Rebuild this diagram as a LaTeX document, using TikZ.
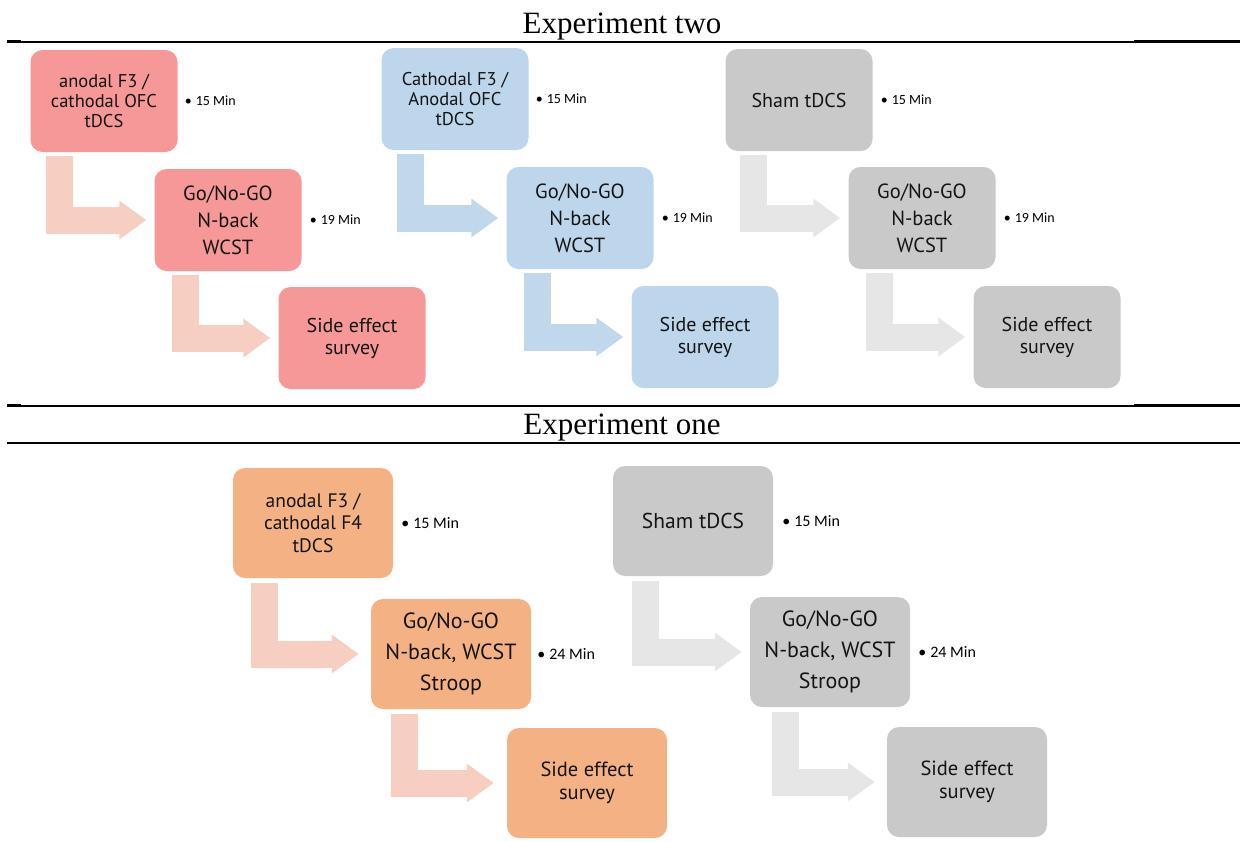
\documentclass[tikz,border=0pt]{standalone}
\usepackage{fontspec}
\setmainfont{Liberation Serif}
\newfontfamily\gillfont{PT Sans}
\newfontfamily\calfont{Carlito}
\usepackage{tikz}
\usetikzlibrary{arrows.meta,positioning}
\definecolor{redbox}{RGB}{246,152,152}
\definecolor{redflow}{RGB}{246,206,194}
\definecolor{bluebox}{RGB}{190,214,236}
\definecolor{blueflow}{RGB}{192,215,236}
\definecolor{graybox}{RGB}{201,201,201}
\definecolor{grayflow}{RGB}{230,230,230}
\definecolor{orangebox}{RGB}{244,177,132}
\definecolor{orangeflow}{RGB}{247,206,194}
\tikzset{
  stage/.style={rectangle, rounded corners=12pt, align=center, text=black!92, inner sep=2pt,
                minimum width=147pt, minimum height=102pt, font=\gillfont\fontsize{18.5}{20}\selectfont},
  bigstage/.style={stage, minimum width=160pt, minimum height=110pt, font=\gillfont\fontsize{19.5}{22.5}\selectfont},
  task/.style={font=\gillfont\fontsize{20.5}{27}\selectfont},
  bigtask/.style={font=\gillfont\fontsize{22}{31}\selectfont},
  survey/.style={font=\gillfont\fontsize{20}{22}\selectfont},
  bigsurvey/.style={font=\gillfont\fontsize{20.5}{23.5}\selectfont},
  sham/.style={font=\gillfont\fontsize{20}{22}\selectfont},
  bigsham/.style={font=\gillfont\fontsize{21.5}{24}\selectfont},
  duration/.style={font=\calfont\fontsize{14}{16}\selectfont, inner sep=0pt},
  bigduration/.style={font=\calfont\fontsize{16}{18}\selectfont, inner sep=0pt},
  flow/.style={line width=27pt, -{Triangle[length=27pt, width=37pt]}, shorten <=4pt, shorten >=8pt},
  heading/.style={font=\fontsize{31}{34}\selectfont, anchor=base, inner sep=0pt},
  rule/.style={line width=1.2pt},
  boldrule/.style={line width=2.6pt}
}

\begin{document}
\begin{tikzpicture}[x=1pt, y=-1pt]
  \useasboundingbox (0,0) rectangle (1240,841);

  % ----- Table rules -----
  \draw[rule] (7,42) -- (1240,42);
  \draw[boldrule] (7,41.5) -- (21,41.5);
  \draw[boldrule] (1134,41.5) -- (1240,41.5);
  \draw[rule] (7,406) -- (1240,406);
  \draw[boldrule] (7,405.5) -- (21,405.5);
  \draw[boldrule] (1134,405.5) -- (1240,405.5);
  \draw[rule] (7,443) -- (1240,443);

  % ----- Experiment two -----
  \node[heading] (title2) at (622,33) {Experiment two};

  \node[stage, fill=redbox] (r1) at (104,101) {anodal F3 /\\cathodal OFC\\tDCS};
  \node[stage, task, fill=redbox] (r2) at (228,220) {Go/No-GO\\N-back\\WCST};
  \node[stage, survey, fill=redbox] (r3) at (352,338) {Side effect\\survey};

  \node[stage, fill=bluebox] (b1) at (455,99) {Cathodal F3 /\\Anodal OFC\\tDCS};
  \node[stage, task, fill=bluebox] (b2) at (580,218) {Go/No-GO\\N-back\\WCST};
  \node[stage, survey, fill=bluebox] (b3) at (705,337) {Side effect\\survey};

  \node[stage, sham, fill=graybox] (g1) at (799,100) {Sham tDCS};
  \node[stage, task, fill=graybox] (g2) at (922,218) {Go/No-GO\\N-back\\WCST};
  \node[stage, survey, fill=graybox] (g3) at (1047,337) {Side effect\\survey};

  % durations
  \node[duration, right=7pt of r1] (r1t) {•\hspace{4pt}15 Min};
  \node[duration, right=8pt of r2] (r2t) {•\hspace{4pt}19 Min};
  \node[duration, right=7pt of b1] (b1t) {•\hspace{4pt}15 Min};
  \node[duration, right=8pt of b2] (b2t) {•\hspace{4pt}19 Min};
  \node[duration, right=8pt of g1] (g1t) {•\hspace{4pt}15 Min};
  \node[duration, right=8pt of g2] (g2t) {•\hspace{4pt}19 Min};

  % ----- Flows -----
  \draw[flow, redflow] ([xshift=29pt]r1.south west) |- (r2.west);
  \draw[flow, redflow] ([xshift=31pt]r2.south west) |- (r3.west);
  \draw[flow, blueflow] ([xshift=29pt]b1.south west) |- (b2.west);
  \draw[flow, blueflow] ([xshift=31pt]b2.south west) |- (b3.west);
  \draw[flow, grayflow] ([xshift=28pt]g1.south west) |- (g2.west);
  \draw[flow, grayflow] ([xshift=31pt]g2.south west) |- (g3.west);

  % ----- Experiment one -----
  \node[heading] (title1) at (622,434) {Experiment one};

  \node[bigstage, fill=orangebox] (o1) at (313,523) {anodal F3 /\\cathodal F4\\tDCS};
  \node[bigstage, bigtask, fill=orangebox] (o2) at (451,654) {Go/No-GO\\N-back, WCST\\Stroop};
  \node[bigstage, bigsurvey, fill=orangebox] (o3) at (587,783) {Side effect\\survey};

  \node[bigstage, bigsham, fill=graybox] (s1) at (693,521) {Sham tDCS};
  \node[bigstage, bigtask, fill=graybox] (s2) at (830,652) {Go/No-GO\\N-back, WCST\\Stroop};
  \node[bigstage, bigsurvey, fill=graybox] (s3) at (967,782) {Side effect\\survey};

  \node[bigduration, right=8pt of o1] (o1t) {•\hspace{4pt}15 Min};
  \node[bigduration, right=6pt of o2] (o2t) {•\hspace{4pt}24 Min};
  \node[bigduration, right=9pt of s1] (s1t) {•\hspace{4pt}15 Min};
  \node[bigduration, right=8pt of s2] (s2t) {•\hspace{4pt}24 Min};

  \draw[flow, orangeflow, shorten >=12pt, shorten <=5pt] ([xshift=32pt]o1.south west) |- (o2.west);
  \draw[flow, orangeflow, shorten >=13pt, shorten <=5pt] ([xshift=34pt]o2.south west) |- (o3.west);
  \draw[flow, grayflow, shorten >=8pt, shorten <=5pt] ([xshift=33pt]s1.south west) |- (s2.west);
  \draw[flow, grayflow, shorten >=12pt, shorten <=5pt] ([xshift=36pt]s2.south west) |- (s3.west);

\end{tikzpicture}
\end{document}
